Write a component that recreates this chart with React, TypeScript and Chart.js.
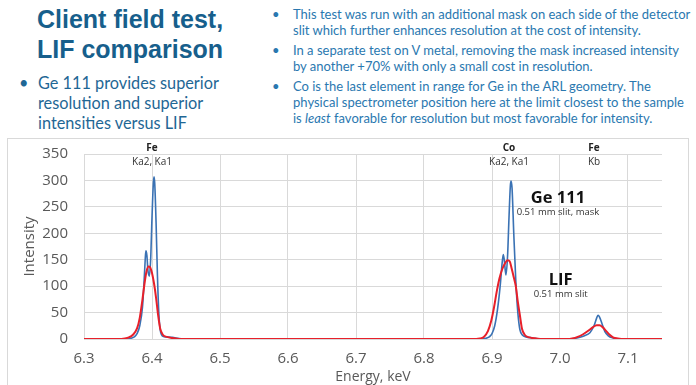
import React, { useEffect, useRef } from "react";
import { Chart, registerables } from "chart.js";
Chart.register(...registerables);

// ---- data ----
const geEnergy = [
  6.3, 6.36, 6.368, 6.374, 6.378, 6.382, 6.386, 6.388, 6.39, 6.391, 6.3925, 6.394, 6.396, 6.398, 6.4, 6.402, 6.403, 6.404, 6.406, 6.408, 6.41, 6.412, 6.415, 6.42, 6.43, 6.44, 6.45,
  6.88, 6.89, 6.896, 6.9, 6.904, 6.908, 6.912, 6.915, 6.9166, 6.918, 6.9205, 6.923, 6.925, 6.927, 6.928, 6.9295, 6.932, 6.935, 6.938, 6.941, 6.945, 6.95, 6.96, 6.97,
  7.01, 7.02, 7.028, 7.036, 7.044, 7.05, 7.054, 7.056, 7.058, 7.062, 7.066, 7.071, 7.078, 7.088, 7.15,
];
const geIntensity = [
  0, 0, 1, 4, 10, 25, 60, 100, 150, 167, 158, 130, 119, 150, 230, 295, 307, 295, 220, 120, 50, 18, 6, 4, 3, 1, 0,
  0, 1, 4, 10, 25, 55, 100, 145, 160, 150, 121, 160, 230, 290, 299, 285, 200, 110, 50, 18, 7, 4, 2, 0,
  0, 1, 3, 6, 12, 25, 40, 45, 42, 28, 14, 6, 2, 0, 0,
];
const lifEnergy = [
  6.3, 6.35, 6.36, 6.366, 6.372, 6.378, 6.382, 6.386, 6.389, 6.392, 6.395, 6.397, 6.4, 6.403, 6.406, 6.409, 6.412, 6.416, 6.422, 6.43, 6.44,
  6.87, 6.882, 6.888, 6.894, 6.899, 6.903, 6.907, 6.911, 6.915, 6.919, 6.923, 6.926, 6.929, 6.932, 6.935, 6.938, 6.941, 6.944, 6.948, 6.955, 6.965, 6.975,
  7.01, 7.018, 7.026, 7.034, 7.042, 7.048, 7.054, 7.058, 7.063, 7.068, 7.073, 7.078, 7.085, 7.095, 7.15,
];
const lifIntensity = [
  0, 0, 1, 3, 8, 20, 40, 75, 105, 128, 137, 136, 125, 105, 78, 45, 20, 8, 4, 2, 0,
  0, 1, 4, 15, 35, 60, 90, 115, 132, 143, 149, 147, 133, 117, 100, 70, 45, 20, 8, 3, 1, 0,
  0, 1, 4, 9, 16, 22, 26, 26, 22, 15, 8, 3, 1, 0, 0,
];
const xTickValues = [6.3, 6.4, 6.5, 6.6, 6.7, 6.8, 6.9, 7.0, 7.1];
const yTickValues = [0, 50, 100, 150, 200, 250, 300, 350];
const xMin = 6.3;
const xMax = 7.15;
const yMin = 0;
const yMax = 350;

const peakNames = ["Fe", "Co", "Fe"];
const peakLines = ["Ka2, Ka1", "Ka2, Ka1", "Kb"];
const peakEnergy = [6.4, 6.925, 7.05];

const seriesNames = ["Ge 111", "LIF"];
const seriesNotes = ["0.51 mm slit, mask", "0.51 mm slit"];
const seriesLabelEnergy = [6.997, 7.001];
const seriesLabelIntensity = [266, 112];

const GREY = "#595959";
const CHART_FONT = "'Open Sans', 'Noto Sans', sans-serif";

const labelPlugin = {
  id: "peakLabels",
  afterDatasetsDraw(chart: any) {
    const { ctx, scales } = chart;
    const xs = scales.x;
    const ys = scales.y;
    const top = chart.chartArea.top;
    ctx.save();
    ctx.textAlign = "center";
    ctx.textBaseline = "middle";
    peakNames.forEach((n, i) => {
      const px = xs.getPixelForValue(peakEnergy[i]);
      ctx.font = `bold 10px ${CHART_FONT}`;
      ctx.fillStyle = "#222";
      ctx.fillText(n, px, top - 6);
      ctx.font = `10px ${CHART_FONT}`;
      ctx.fillStyle = "#333";
      ctx.fillText(peakLines[i], px, top + 8);
    });
    seriesNames.forEach((n, i) => {
      const px = xs.getPixelForValue(seriesLabelEnergy[i]);
      const py = ys.getPixelForValue(seriesLabelIntensity[i]);
      ctx.fillStyle = "#111";
      ctx.font = `bold 16.5px ${CHART_FONT}`;
      ctx.fillText(n, px, py);
      ctx.fillStyle = "#333";
      ctx.font = `9.5px ${CHART_FONT}`;
      ctx.fillText(seriesNotes[i], px, py + 14);
    });
    ctx.restore();
  },
};

function SpectrumChart() {
  const ref = useRef<HTMLCanvasElement | null>(null);
  useEffect(() => {
    if (!ref.current) return;
    const chart = new Chart(ref.current, {
      type: "line",
      data: {
        datasets: [
          {
            label: "LIF",
            data: lifEnergy.map((e, i) => ({ x: e, y: lifIntensity[i] })),
            borderColor: "#e8202a",
            borderWidth: 2,
            pointRadius: 0,
            cubicInterpolationMode: "monotone",
            order: 0,
          },
          {
            label: "Ge 111",
            data: geEnergy.map((e, i) => ({ x: e, y: geIntensity[i] })),
            borderColor: "#3a72b4",
            borderWidth: 1.6,
            pointRadius: 0,
            cubicInterpolationMode: "monotone",
            order: 1,
          },
        ],
      },
      options: {
        animation: false,
        responsive: false,
        maintainAspectRatio: false,
        layout: { padding: { top: 14, right: 28, left: 0, bottom: 0 } },
        plugins: { legend: { display: false }, tooltip: { enabled: false } },
        scales: {
          x: {
            type: "linear",
            min: xMin,
            max: xMax,
            afterBuildTicks: (s: any) => {
              s.ticks = xTickValues.map((v) => ({ value: v }));
            },
            afterFit: (s: any) => {
              s.height = 46;
              s.paddingLeft = 0;
              s.paddingRight = 0;
            },
            grid: { color: "#d9d9d9", drawTicks: false, lineWidth: 1 },
            border: { display: false },
            ticks: {
              padding: 11,
              color: GREY,
              font: { family: CHART_FONT, size: 15 },
              maxRotation: 0,
              callback: (v: any) => Number(v).toFixed(1),
            },
            title: {
              display: true,
              text: "Energy, keV",
              color: GREY,
              font: { family: CHART_FONT, size: 14, lineHeight: "16px" },
              padding: { top: 0, bottom: 0 },
            },
          },
          y: {
            type: "linear",
            min: yMin,
            max: yMax,
            afterBuildTicks: (s: any) => {
              s.ticks = yTickValues.map((v) => ({ value: v }));
            },
            afterFit: (s: any) => {
              s.width = 76;
              s.paddingTop = 0;
              s.paddingBottom = 0;
            },
            grid: { color: "#d9d9d9", drawTicks: false, lineWidth: 1 },
            border: { display: false },
            ticks: {
              padding: 16,
              color: GREY,
              font: { family: CHART_FONT, size: 15 },
            },
            title: {
              display: true,
              text: "Intensity",
              color: GREY,
              font: { family: CHART_FONT, size: 15, lineHeight: "18px" },
              padding: { top: 13, bottom: 0 },
            },
          },
        },
      },
      plugins: [labelPlugin],
    } as any);
    return () => chart.destroy();
  }, []);
  return <canvas ref={ref} width={682} height={245} style={{ display: "block", width: 682, height: 245 }} />;
}

const titleLines = ["Client field test,", "LIF comparison"];
const leftBulletLines = ["Ge 111 provides superior", "resolution and superior", "intensities versus LIF"];

export default function App() {
  const rightText = { fontFamily: "Lato, 'Noto Sans', sans-serif", fontSize: 13, lineHeight: "16px", color: "#2a78b0" } as const;
  return (
    <div style={{ position: "fixed", left: 0, top: 0, width: 696, height: 385, background: "#fff", overflow: "hidden" }}>
      <div style={{ position: "absolute", left: 37, top: 4, fontFamily: "'Liberation Sans', Arial, sans-serif", fontWeight: 700, fontSize: 25, lineHeight: "30px", color: "#175f8c", whiteSpace: "nowrap" }}>
        {titleLines.map((l) => (
          <div key={l}>{l}</div>
        ))}
      </div>
      <div style={{ position: "absolute", left: 19, top: 73, fontFamily: "Lato, 'Noto Sans', sans-serif", fontSize: 16.3, lineHeight: "20px", color: "#1f6795", whiteSpace: "nowrap" }}>
        <span style={{ position: "absolute", left: 0, top: 0 }}>•</span>
        <div style={{ marginLeft: 19 }}>
          {leftBulletLines.map((l) => (
            <div key={l}>{l}</div>
          ))}
        </div>
      </div>
      <div style={{ position: "absolute", left: 272, top: 6, whiteSpace: "nowrap", ...rightText }}>
        <div style={{ position: "relative", paddingLeft: 21 }}>
          <span style={{ position: "absolute", left: 0 }}>•</span>
          <div>This test was run with an additional mask on each side of the detector</div>
          <div>slit which further enhances resolution at the cost of intensity.</div>
        </div>
        <div style={{ position: "relative", paddingLeft: 21, marginTop: 4 }}>
          <span style={{ position: "absolute", left: 0 }}>•</span>
          <div>In a separate test on V metal, removing the mask increased intensity</div>
          <div>by another +70% with only a small cost in resolution.</div>
        </div>
        <div style={{ position: "relative", paddingLeft: 21, marginTop: 4 }}>
          <span style={{ position: "absolute", left: 0 }}>•</span>
          <div>Co is the last element in range for Ge in the ARL geometry. The</div>
          <div>physical spectrometer position here at the limit closest to the sample</div>
          <div>
            is <i>least</i> favorable for resolution but most favorable for intensity.
          </div>
        </div>
      </div>
      <div style={{ position: "absolute", left: 7, top: 138, width: 682, height: 260, border: "1px solid #d9d9d9", boxSizing: "border-box" }} />
      <div style={{ position: "absolute", left: 8, top: 140 }}>
        <SpectrumChart />
      </div>
    </div>
  );
}
